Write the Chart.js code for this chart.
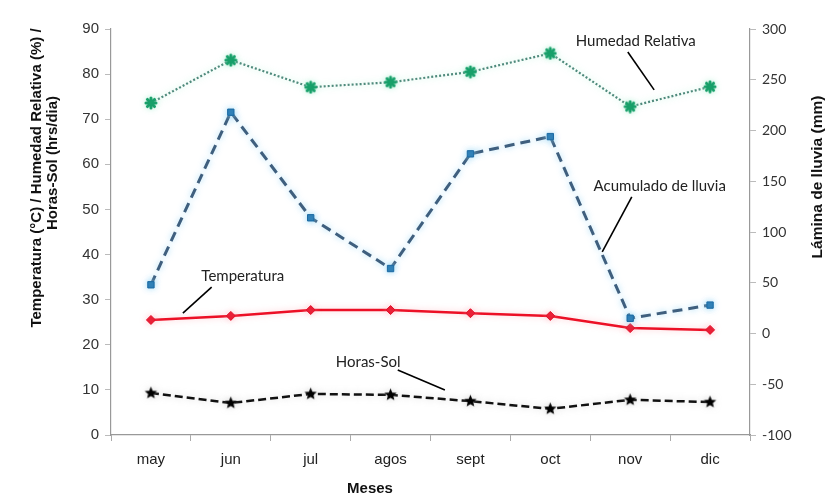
<!DOCTYPE html>
<html><head><meta charset="utf-8">
<script src="https://cdn.jsdelivr.net/npm/chart.js@4/dist/chart.umd.min.js"></script>
<style>html,body{margin:0;padding:0;background:#fff}#wrap{width:827px;height:497px}</style>
</head><body><div id="wrap"><canvas id="c" width="827" height="497"></canvas></div>
<script>
// Monthly climate series
const meses = ['may', 'jun', 'jul', 'agos', 'sept', 'oct', 'nov', 'dic'];
const humedad = [73.6, 83.1, 77.1, 78.2, 80.5, 84.6, 72.8, 77.2];      // %
const lluvia = [48, 218, 114, 64, 177, 194, 15, 28];                     // mm (right axis)
const temperatura = [25.5, 26.4, 27.7, 27.7, 27.0, 26.4, 23.7, 23.3];   // °C
const horasSol = [9.3, 7.1, 9.1, 8.9, 7.5, 5.8, 7.8, 7.3];              // hrs/dia

// Callout labels: text anchor and leader line, in (category index, left-axis value)
const notas = [
  { texto: 'Humedad Relativa', en: [6.07, 87.3], linea: [[5.97, 84.9], [6.30, 76.5]] },
  { texto: 'Acumulado de lluvia', en: [6.37, 55.2], linea: [[6.02, 52.8], [5.65, 40.6]] },
  { texto: 'Temperatura', en: [1.15, 35.2], linea: [[0.76, 32.8], [0.40, 27.0]] },
  { texto: 'Horas-Sol', en: [2.72, 16.2], linea: [[3.09, 14.4], [3.68, 10.0]] }
];

function estrella(r, color) {
  const c = document.createElement('canvas');
  const s = Math.ceil(2 * r + 2);
  c.width = s; c.height = s;
  const g = c.getContext('2d');
  g.fillStyle = color;
  g.beginPath();
  for (let i = 0; i < 10; i++) {
    const rr = i % 2 === 0 ? r : r * 0.45;
    const a = -Math.PI / 2 + i * Math.PI / 5;
    const x = s / 2 + rr * Math.cos(a), y = s / 2 + rr * Math.sin(a);
    i === 0 ? g.moveTo(x, y) : g.lineTo(x, y);
  }
  g.closePath();
  g.fill();
  return c;
}

function asterisco(r, color) {
  const c = document.createElement('canvas');
  const s = Math.ceil(2 * r + 4);
  c.width = s; c.height = s;
  const g = c.getContext('2d');
  g.strokeStyle = color;
  g.lineWidth = 3;
  g.lineCap = 'round';
  g.translate(s / 2, s / 2);
  for (let i = 0; i < 4; i++) {
    const a = i * Math.PI / 4;
    g.beginPath();
    g.moveTo(-r * Math.cos(a), -r * Math.sin(a));
    g.lineTo(r * Math.cos(a), r * Math.sin(a));
    g.stroke();
  }
  g.fillStyle = color;
  g.beginPath(); g.arc(0, 0, r * 0.45, 0, Math.PI * 2); g.fill();
  return c;
}

const brillo = {
  id: 'brillo',
  beforeDatasetDraw(chart, args) {
    const ds = chart.data.datasets[args.index];
    if (!ds.glow) return;
    const ctx = chart.ctx;
    ctx.save();
    ctx.shadowColor = ds.glow;
    ctx.shadowBlur = 6;
  },
  afterDatasetDraw(chart, args) {
    const ds = chart.data.datasets[args.index];
    if (!ds.glow) return;
    chart.ctx.restore();
  }
};

const anotaciones = {
  id: 'anotaciones',
  afterDatasetsDraw(chart) {
    const { ctx, scales } = chart;
    const px = p => [scales.x.getPixelForValue(p[0]), scales.y.getPixelForValue(p[1])];
    ctx.save();
    ctx.strokeStyle = '#000';
    ctx.lineWidth = 1.6;
    ctx.fillStyle = '#222';
    ctx.font = '15px Lato, "Open Sans", sans-serif';
    ctx.textAlign = 'center';
    ctx.textBaseline = 'middle';
    notas.forEach(n => {
      const a = px(n.linea[0]), b = px(n.linea[1]);
      ctx.beginPath(); ctx.moveTo(a[0], a[1]); ctx.lineTo(b[0], b[1]); ctx.stroke();
      const t = px(n.en);
      ctx.fillText(n.texto, t[0], t[1]);
    });
    ctx.restore();
  },
  afterDraw(chart) {
    const { ctx } = chart;
    ctx.save();
    ctx.fillStyle = '#111';
    ctx.textAlign = 'center';
    ctx.textBaseline = 'middle';
    ctx.font = 'bold 15px "Liberation Sans", Arial, sans-serif';
    ctx.save();
    ctx.translate(37, 178);
    ctx.rotate(-Math.PI / 2);
    ctx.fillText('Temperatura (°C) / Humedad Relativa (%) /', 0, 0);
    ctx.restore();
    ctx.save();
    ctx.translate(53, 163);
    ctx.rotate(-Math.PI / 2);
    ctx.fillText('Horas-Sol (hrs/dia)', 0, 0);
    ctx.restore();
    ctx.save();
    ctx.translate(818, 177);
    ctx.rotate(-Math.PI / 2);
    ctx.font = 'bold 15.5px "Liberation Sans", Arial, sans-serif';
    ctx.fillText('Lámina de lluvia (mm)', 0, 0);
    ctx.restore();
    ctx.font = 'bold 15px "Liberation Sans", Arial, sans-serif';
    ctx.fillText('Meses', 370, 489);
    ctx.restore();
  }
};

new Chart(document.getElementById('c'), {
  type: 'line',
  data: {
    labels: meses,
    datasets: [
      {
        label: 'Humedad Relativa', data: humedad, yAxisID: 'y',
        borderColor: '#4f8a7c', borderWidth: 2.2, borderDash: [2, 2],
        pointStyle: asterisco(5, '#18a06a'), pointRadius: 6,
        glow: 'rgba(150,235,200,0.7)'
      },
      {
        label: 'Acumulado de lluvia', data: lluvia, yAxisID: 'y1',
        borderColor: '#3f5f7e', borderWidth: 3, borderDash: [10, 6],
        pointStyle: 'rect', pointRadius: 4.5, pointBorderWidth: 1,
        pointBorderColor: '#1c6aa3', pointBackgroundColor: '#1f72ad',
        glow: 'rgba(140,210,245,0.8)'
      },
      {
        label: 'Temperatura', data: temperatura, yAxisID: 'y',
        borderColor: '#ec1026', borderWidth: 2.5,
        pointStyle: 'rectRot', pointRadius: 4.5, pointBorderWidth: 1,
        pointBorderColor: '#e0102a', pointBackgroundColor: '#e8142c',
        glow: 'rgba(255,170,180,0.6)'
      },
      {
        label: 'Horas-Sol', data: horasSol, yAxisID: 'y',
        borderColor: '#111', borderWidth: 2.5, borderDash: [8, 4],
        pointStyle: estrella(6.5, '#000'), pointRadius: 6,
        glow: 'rgba(180,180,180,0.5)'
      }
    ]
  },
  options: {
    responsive: false,
    devicePixelRatio: 1,
    animation: false,
    layout: { padding: { top: 29, left: 0, right: 0, bottom: 0 } },
    plugins: { legend: { display: false }, tooltip: { enabled: false } },
    scales: {
      x: {
        offset: true,
        afterFit(s) { s.height = 62; },
        grid: { display: true, offset: true, drawOnChartArea: false, drawTicks: true, tickLength: 6, color: '#aaa' },
        border: { display: true, color: '#999', width: 1.2 },
        ticks: { color: '#222', padding: 10, font: { family: '"Liberation Sans", Arial, sans-serif', size: 15 } }
      },
      y: {
        position: 'left', min: 0, max: 90,
        afterFit(s) { s.width = 111; },
        ticks: { stepSize: 10, color: '#333', padding: 6, font: { family: '"Liberation Sans", Arial, sans-serif', size: 15 } },
        grid: { drawOnChartArea: false, drawTicks: true, tickLength: 6, color: '#bbb' },
        border: { display: true, color: '#999', width: 1.2 }
      },
      y1: {
        position: 'right', min: -100, max: 300,
        afterFit(s) { s.width = 77; },
        ticks: { stepSize: 50, color: '#333', padding: 6, font: { family: 'Lato, "Open Sans", sans-serif', size: 14 } },
        grid: { drawOnChartArea: false, drawTicks: true, tickLength: 6, color: '#bbb' },
        border: { display: true, color: '#999', width: 1.2 }
      }
    }
  },
  plugins: [brillo, anotaciones]
});
</script>
</body></html>
